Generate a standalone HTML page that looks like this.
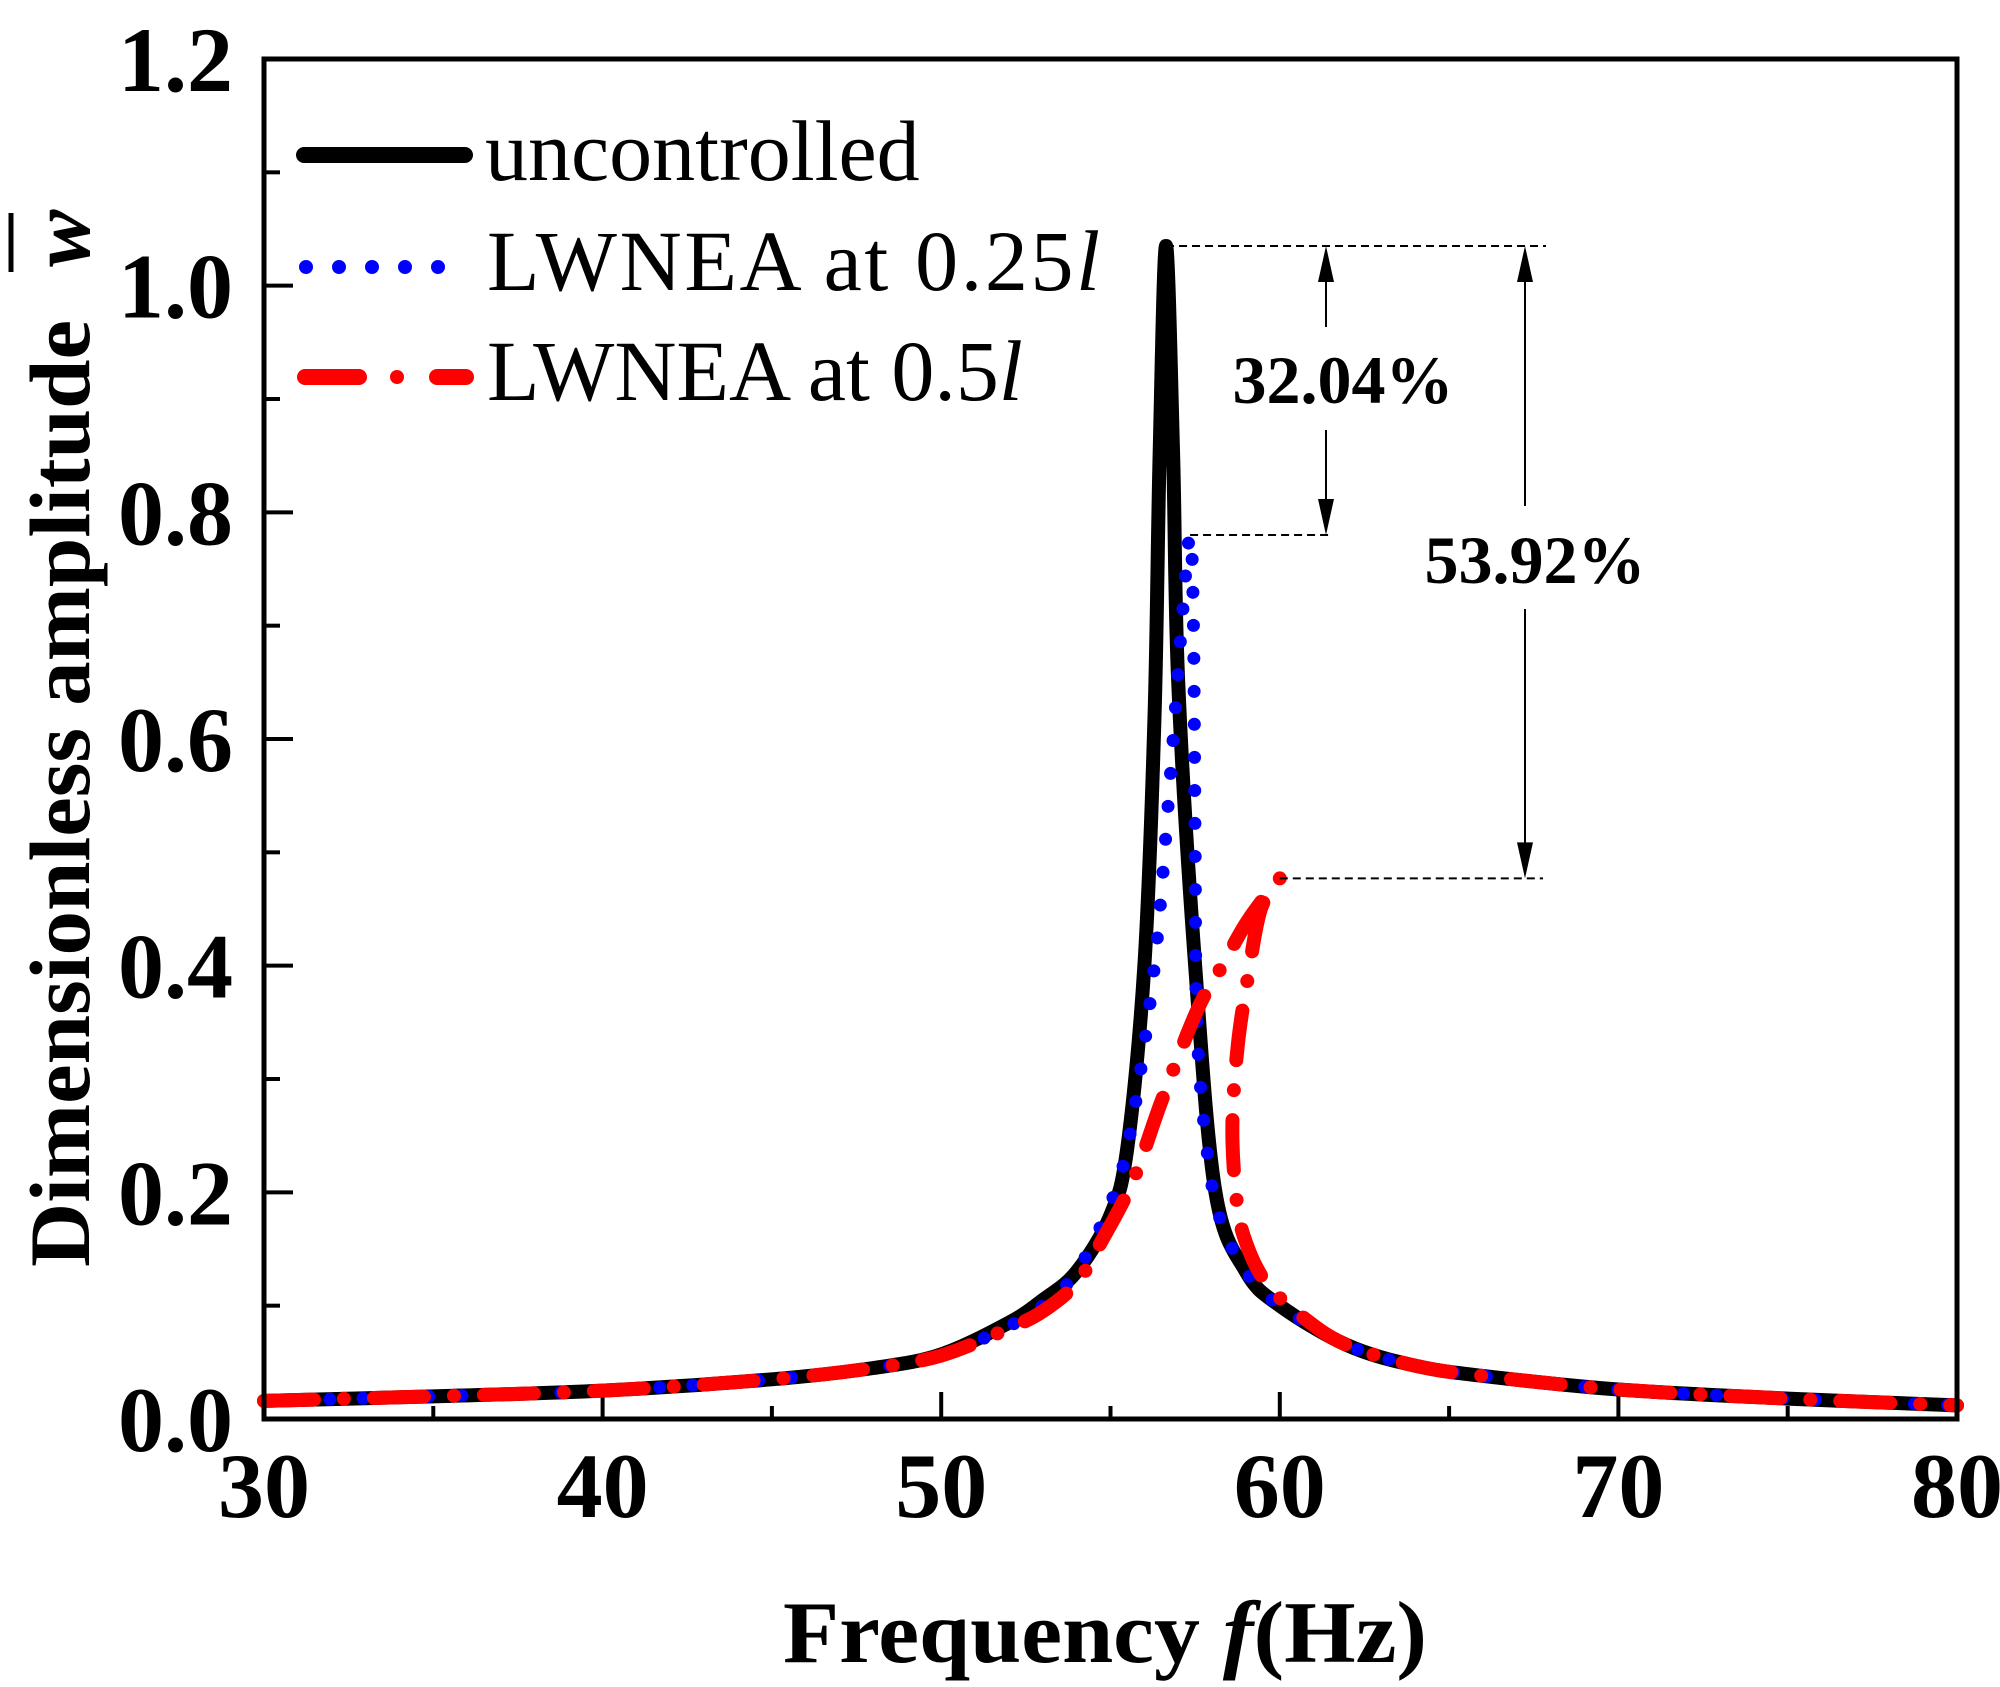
<!DOCTYPE html>
<html><head><meta charset="utf-8"><style>html,body{margin:0;padding:0;background:#fff}svg{display:block}</style></head>
<body>
<svg id="chart" width="2000" height="1687" viewBox="0 0 2000 1687" xmlns="http://www.w3.org/2000/svg" font-family="'Liberation Serif', serif">
<g id="plot"></g>
</svg>
<script>
const xTicks = [30, 40, 50, 60, 70, 80];
const yTicks = [0.0, 0.2, 0.4, 0.6, 0.8, 1.0, 1.2];
const yTickLabels = ["0.0", "0.2", "0.4", "0.6", "0.8", "1.0", "1.2"];
const uncF = [30,35,40,45,48,50,52,53,54,55,55.5,56,56.3,56.45,56.64,56.85,57.0,57.5,58.1,59,60,62,64,66,70,75,80];
const uncW = [0.016,0.02,0.025,0.035,0.045,0.057,0.085,0.105,0.13,0.18,0.24,0.4,0.62,0.85,1.035,0.85,0.65,0.4,0.2,0.13,0.1,0.065,0.047,0.038,0.026,0.018,0.012];
const q25F = [30,35,40,45,48,50,52,53,54,55,55.5,56,56.4,56.8,57.1,57.35,57.45,57.5,57.55,57.8,58.2,59,60,62,64,66,70,75,80];
const q25W = [0.016,0.02,0.025,0.035,0.045,0.056,0.082,0.1,0.13,0.19,0.24,0.33,0.43,0.58,0.7,0.78,0.7,0.5,0.35,0.25,0.18,0.13,0.1,0.065,0.047,0.038,0.026,0.018,0.012];
const q50F = [30,35,40,45,48,50,52,53,54,54.7,55.66,56.5,57.55,58.3,59.06,60.0,59.44,59.06,58.76,58.6,58.7,58.95,59.6,60.76,62,64,66,70,75,80];
const q50W = [0.016,0.02,0.025,0.035,0.045,0.056,0.08,0.095,0.12,0.155,0.21,0.28,0.36,0.40,0.44,0.477,0.45,0.39,0.33,0.26,0.2,0.16,0.12,0.088,0.065,0.047,0.038,0.026,0.018,0.012];
const peaks = [1.035, 0.78, 0.477];
const peakF = [56.64, 57.35, 60.0];

const NS = "http://www.w3.org/2000/svg";
const L = 264, R = 1957, T = 59, B = 1419;
const xs = f => L + (f - 30) / 50 * (R - L);
const ys = v => B - v / 1.2 * (B - T);
const g = document.getElementById('plot');
function mk(tag, attrs, parent) {
  const e = document.createElementNS(NS, tag);
  for (const k in attrs) e.setAttribute(k, attrs[k]);
  (parent || g).appendChild(e);
  return e;
}
function pathFrom(F, W) {
  const p = F.map((f, i) => [xs(f), ys(W[i])]);
  let d = `M${p[0][0]},${p[0][1]}`;
  for (let i = 0; i < p.length - 1; i++) {
    const p0 = p[Math.max(i - 1, 0)], p1 = p[i], p2 = p[i + 1], p3 = p[Math.min(i + 2, p.length - 1)];
    const c1 = [p1[0] + (p2[0] - p0[0]) / 6, p1[1] + (p2[1] - p0[1]) / 6];
    const c2 = [p2[0] - (p3[0] - p1[0]) / 6, p2[1] - (p3[1] - p1[1]) / 6];
    d += ` C${c1[0]},${c1[1]} ${c2[0]},${c2[1]} ${p2[0]},${p2[1]}`;
  }
  return d;
}

for (let v = 0; v <= 1.2001; v += 0.1) {
  const major = Math.abs(Math.round(v * 10) % 2) === 0;
  const t = mk('line', {x1: L, x2: L + (major ? 29 : 16), y1: ys(v), y2: ys(v), stroke: '#000', 'stroke-width': 4});
  
  
}
for (let f = 30; f <= 80; f += 5) {
  const major = f % 10 === 0;
  const t = mk('line', {x1: xs(f), x2: xs(f), y1: B, y2: B - (major ? 27 : 13), stroke: '#000', 'stroke-width': 4});
  
  
}
yTicks.forEach((v, i) => {
  const t = mk('text', {x: 233, y: ys(v) + 32, 'text-anchor': 'end', 'font-size': 92, 'font-weight': 'bold'});
  t.textContent = yTickLabels[i];
  
  
});
xTicks.forEach(f => {
  const t = mk('text', {x: xs(f), y: 1517, 'text-anchor': 'middle', 'font-size': 92, 'font-weight': 'bold'});
  t.textContent = String(f);
  
  
});

const s1 = mk('path', {d: pathFrom(uncF, uncW), fill: 'none', stroke: '#000', 'stroke-width': 14, 'stroke-linejoin': 'round', 'stroke-linecap': 'round'});


const s2 = mk('path', {d: pathFrom(q25F, q25W), fill: 'none', stroke: '#0000ff', 'stroke-width': 13, 'stroke-dasharray': '0 33', 'stroke-linecap': 'round'});


const s3 = mk('path', {d: pathFrom(q50F, q50W), fill: 'none', stroke: '#ff0000', 'stroke-width': 14, 'stroke-dasharray': '50 30 0 30', 'stroke-linecap': 'round'});



const dashEnds = [1546, 1329, 1543];
peaks.forEach((v, i) => {
  const l = mk('line', {x1: xs(peakF[i]), x2: dashEnds[i], y1: ys(v), y2: ys(v), stroke: '#000', 'stroke-width': 2, 'stroke-dasharray': '8 5'});
  
  
});
function arrow(x, y1, y2, gap1, gap2, name) {
  const grp = mk('g', {});
  
  
  mk('line', {x1: x, x2: x, y1: y1 + 30, y2: gap1, stroke: '#000', 'stroke-width': 2}, grp);
  mk('line', {x1: x, x2: x, y1: gap2, y2: y2 - 30, stroke: '#000', 'stroke-width': 2}, grp);
  mk('polygon', {points: `${x},${y1} ${x - 8},${y1 + 36} ${x + 8},${y1 + 36}`, fill: '#000'}, grp);
  mk('polygon', {points: `${x},${y2} ${x - 8},${y2 - 36} ${x + 8},${y2 - 36}`, fill: '#000'}, grp);
}
arrow(1326, ys(peaks[0]), ys(peaks[1]), 327, 430, 'reduction-arrow-025l');
arrow(1525, ys(peaks[0]), ys(peaks[2]), 506, 609, 'reduction-arrow-05l');
</script>

<svg style="position:absolute;left:0;top:0" width="2000" height="1687" viewBox="0 0 2000 1687" font-family="'Liberation Serif', serif">
  <rect x="264" y="59" width="1693" height="1360" fill="none" stroke="#000" stroke-width="5"/>
  <text x="1343" y="403" text-anchor="middle" font-size="68" font-weight="bold">32.04%</text>
  <text x="1535" y="583" text-anchor="middle" font-size="68" font-weight="bold">53.92%</text>
  <g>
    <g>
      <line x1="304" x2="465" y1="155" y2="155" stroke="#000" stroke-width="16" stroke-linecap="round"/>
      <text x="485" y="180" font-size="86">uncontrolled</text>
    </g>
    <g>
      <line x1="306" x2="440" y1="267" y2="267" stroke="#0000ff" stroke-width="14" stroke-dasharray="0 33" stroke-linecap="round"/>
      <text x="487" y="290" font-size="86" textLength="613">LWNEA at 0.25<tspan font-style="italic">l</tspan></text>
    </g>
    <g>
      <line x1="305" x2="359" y1="377" y2="377" stroke="#ff0000" stroke-width="16" stroke-linecap="round"/>
      <line x1="397" x2="397" y1="377" y2="377" stroke="#ff0000" stroke-width="14" stroke-linecap="round"/>
      <line x1="437" x2="466" y1="377" y2="377" stroke="#ff0000" stroke-width="16" stroke-linecap="round"/>
      <text x="487" y="400" font-size="86">LWNEA at 0.5<tspan font-style="italic">l</tspan></text>
    </g>
  </g>
  <g transform="translate(89,0) rotate(-90)">
    <text x="-1267" y="0" font-size="86" font-weight="bold" textLength="947" lengthAdjust="spacingAndGlyphs">Dimensionless amplitude</text>
    <text x="-267" y="0" font-size="86" font-weight="bold" font-style="italic">w</text>
    <line x1="-272" x2="-213" y1="-78" y2="-78" stroke="#000" stroke-width="5"/>
  </g>
  <text x="783" y="1662" font-size="88" font-weight="bold" textLength="644" lengthAdjust="spacingAndGlyphs">Frequency <tspan font-style="italic">f</tspan>(Hz)</text>
</svg>
</body></html>
